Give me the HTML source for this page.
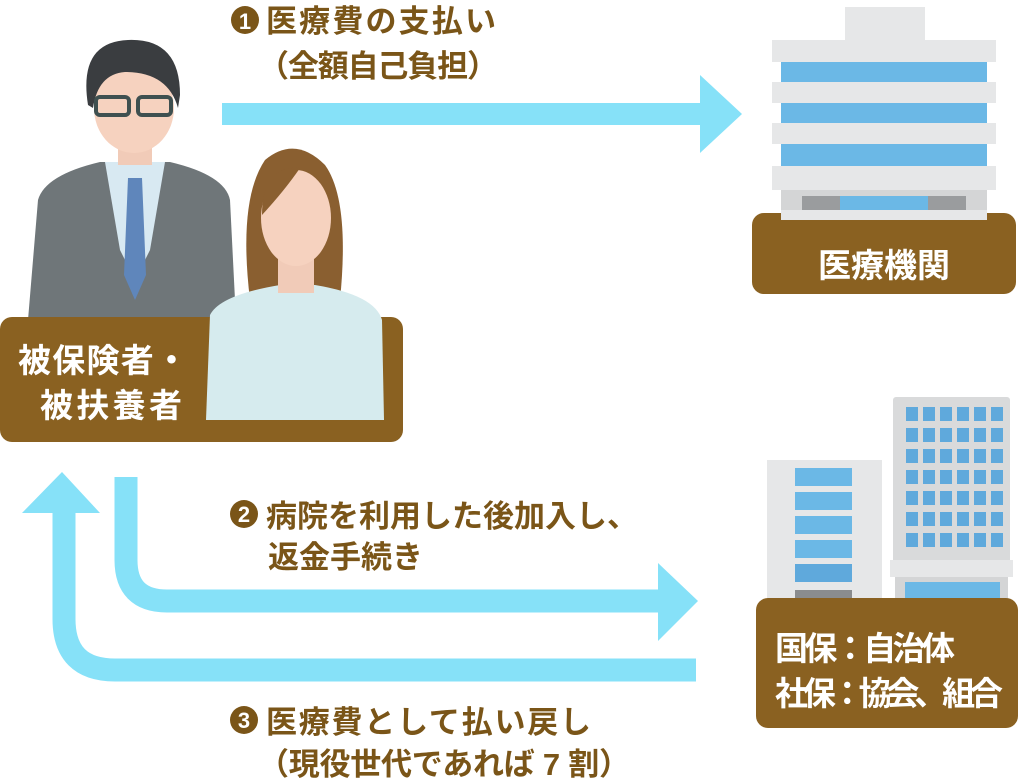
<!DOCTYPE html>
<html><head><meta charset="utf-8"><style>
html,body{margin:0;padding:0;background:#fff;width:1024px;height:779px;overflow:hidden}
svg{display:block}
text{font-family:"Liberation Sans","Noto Sans CJK JP",sans-serif;font-weight:bold}
.t{fill:#7a5518;font-size:31px}
.w{fill:#fff;font-size:33px}
</style></head><body>
<svg width="1024" height="779" viewBox="0 0 1024 779" xmlns="http://www.w3.org/2000/svg">
<!-- Arrow 1 -->
<rect x="222" y="103" width="482" height="22" fill="#86e1f8"/>
<polygon points="700,75 742,114 700,153" fill="#86e1f8"/>
<!-- Arrow 2 -->
<path d="M126,477 V560 Q126,601 167,601 H662" fill="none" stroke="#86e1f8" stroke-width="23"/>
<polygon points="658,563 698,601 658,641" fill="#86e1f8"/>
<!-- Arrow 3 -->
<path d="M696,670 H115 Q64,670 64,619 V510" fill="none" stroke="#86e1f8" stroke-width="23"/>
<polygon points="22,513 62,472 100,513" fill="#86e1f8"/>

<!-- Texts -->
<circle cx="245" cy="20" r="14" fill="#7a5518"/>
<text x="245" y="29" text-anchor="middle" fill="#fff" font-size="22">1</text>
<text class="t" x="266" y="32" textLength="230">医療費の支払い</text>
<text class="t" x="258" y="77" textLength="240">（全額自己負担）</text>

<circle cx="244" cy="514" r="14" fill="#7a5518"/>
<text x="244" y="522" text-anchor="middle" fill="#fff" font-size="22">2</text>
<text class="t" x="266" y="527" textLength="372">病院を利用した後加入し、</text>
<text class="t" x="268" y="568">返金手続き</text>

<circle cx="244" cy="720" r="14" fill="#7a5518"/>
<text x="244" y="728" text-anchor="middle" fill="#fff" font-size="22">3</text>
<text class="t" x="266" y="733" textLength="325">医療費として払い戻し</text>
<text class="t" x="258" y="775" textLength="372">（現役世代であれば 7 割）</text>

<!-- Hospital building -->
<rect x="845" y="7" width="80" height="35" fill="#e6e7e8"/>
<rect x="772" y="40" width="224" height="22" fill="#e6e7e8"/>
<rect x="781" y="62" width="206" height="20" fill="#6bb8e6"/>
<rect x="772" y="82" width="224" height="21" fill="#e6e7e8"/>
<rect x="781" y="103" width="206" height="20" fill="#6bb8e6"/>
<rect x="772" y="123" width="224" height="21" fill="#e6e7e8"/>
<rect x="781" y="144" width="206" height="22" fill="#6bb8e6"/>
<rect x="772" y="166" width="224" height="24" fill="#e6e7e8"/>
<rect x="781" y="190" width="206" height="30" fill="#d4d5d6"/>
<rect x="802" y="196" width="164" height="24" fill="#9a9c9e"/>
<rect x="840" y="196" width="88" height="24" fill="#6bb8e6"/>
<rect x="752" y="213" width="264" height="81" rx="12" fill="#8a6121"/>
<rect x="781" y="210" width="206" height="10" fill="#e6e7e8"/>
<text class="w" x="884" y="277" text-anchor="middle" font-size="35">医療機関</text>

<!-- Insurer buildings -->
<rect x="893" y="397" width="117" height="180" rx="3" fill="#d9dadb"/>
<g fill="#5fa9dc">
<rect x="906" y="407" width="12" height="14"/><rect x="923" y="407" width="12" height="14"/><rect x="940" y="407" width="12" height="14"/><rect x="957" y="407" width="12" height="14"/><rect x="974" y="407" width="12" height="14"/><rect x="991" y="407" width="12" height="14"/>
<rect x="906" y="428" width="12" height="14"/><rect x="923" y="428" width="12" height="14"/><rect x="940" y="428" width="12" height="14"/><rect x="957" y="428" width="12" height="14"/><rect x="974" y="428" width="12" height="14"/><rect x="991" y="428" width="12" height="14"/>
<rect x="906" y="449" width="12" height="14"/><rect x="923" y="449" width="12" height="14"/><rect x="940" y="449" width="12" height="14"/><rect x="957" y="449" width="12" height="14"/><rect x="974" y="449" width="12" height="14"/><rect x="991" y="449" width="12" height="14"/>
<rect x="906" y="470" width="12" height="14"/><rect x="923" y="470" width="12" height="14"/><rect x="940" y="470" width="12" height="14"/><rect x="957" y="470" width="12" height="14"/><rect x="974" y="470" width="12" height="14"/><rect x="991" y="470" width="12" height="14"/>
<rect x="906" y="491" width="12" height="14"/><rect x="923" y="491" width="12" height="14"/><rect x="940" y="491" width="12" height="14"/><rect x="957" y="491" width="12" height="14"/><rect x="974" y="491" width="12" height="14"/><rect x="991" y="491" width="12" height="14"/>
<rect x="906" y="512" width="12" height="14"/><rect x="923" y="512" width="12" height="14"/><rect x="940" y="512" width="12" height="14"/><rect x="957" y="512" width="12" height="14"/><rect x="974" y="512" width="12" height="14"/><rect x="991" y="512" width="12" height="14"/>
<rect x="906" y="533" width="12" height="14"/><rect x="923" y="533" width="12" height="14"/><rect x="940" y="533" width="12" height="14"/><rect x="957" y="533" width="12" height="14"/><rect x="974" y="533" width="12" height="14"/><rect x="991" y="533" width="12" height="14"/>
</g>
<rect x="890" y="560" width="123" height="17" fill="#e6e7e8"/>
<rect x="895" y="577" width="113" height="33" fill="#d4d5d6"/>
<rect x="905" y="582" width="95" height="22" fill="#6bb8e6"/>
<rect x="767" y="460" width="115" height="150" fill="#e6e7e8"/>
<rect x="795" y="468" width="57" height="18" fill="#6bb8e6"/>
<rect x="795" y="492" width="57" height="18" fill="#6bb8e6"/>
<rect x="795" y="516" width="57" height="18" fill="#6bb8e6"/>
<rect x="795" y="540" width="57" height="18" fill="#6bb8e6"/>
<rect x="795" y="564" width="57" height="18" fill="#5fa9dc"/>
<rect x="795" y="590" width="57" height="15" fill="#8a8c8e"/>
<rect x="756" y="598" width="262" height="130" rx="12" fill="#8a6121"/>
<text class="w" x="775" y="660" font-size="31" textLength="180">国保：自治体</text>
<text class="w" x="775" y="705" font-size="31" textLength="228">社保：協会、組合</text>

<!-- Man -->
<path d="M28,320 L38,200 Q45,175 100,162 L170,162 Q225,175 230,200 L236,320 Z" fill="#6f7679"/>
<polygon points="105,162 165,162 150,250 135,280 120,250" fill="#d8e9f2"/>
<polygon points="128,178 142,178 146,275 135,300 124,275" fill="#5f86bb"/>
<rect x="118" y="135" width="34" height="30" fill="#f1cbb8"/>
<ellipse cx="134" cy="108" rx="40" ry="45" fill="#f6d2bf"/>
<path d="M88,105 Q78,42 128,40 Q180,38 180,95 L178,108 Q168,72 125,72 Q98,74 93,108 Z" fill="#3a3d40"/>
<rect x="96" y="97" width="33" height="18" rx="4" fill="none" stroke="#3f5050" stroke-width="4"/>
<rect x="138" y="97" width="33" height="18" rx="4" fill="none" stroke="#3f5050" stroke-width="4"/>

<!-- Label box people -->
<rect x="0" y="317" width="403" height="125" rx="12" fill="#8a6121"/>
<!-- Woman -->
<path d="M250,300 Q238,200 265,160 Q295,135 325,165 Q350,200 340,300 Z" fill="#8a5f30"/>
<path d="M206,420 L210,315 Q220,295 280,285 L315,285 Q375,295 382,320 L384,420 Z" fill="#d6ebee"/>
<rect x="278" y="258" width="36" height="35" fill="#f1cbb8"/>
<ellipse cx="296" cy="218" rx="35" ry="48" fill="#f6d2bf"/>
<path d="M262,215 Q262,165 300,168 Q285,190 262,215 Z" fill="#8a5f30"/>
<text class="w" x="18" y="372" textLength="170">被保険者・</text>
<text class="w" x="40" y="417" textLength="142">被扶養者</text>
</svg>
</body></html>
